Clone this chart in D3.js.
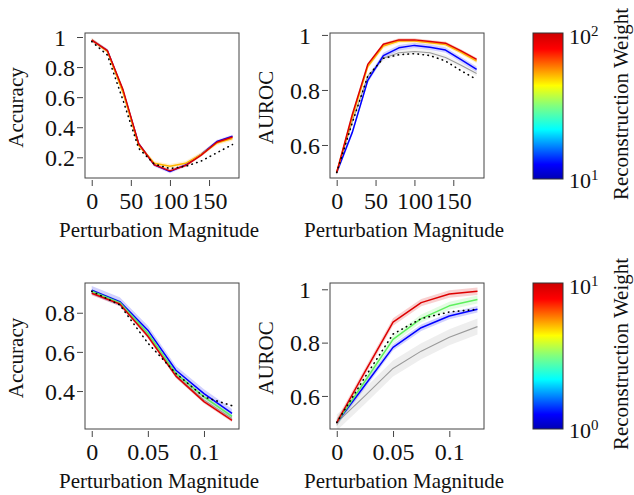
<!DOCTYPE html>
<html>
<head>
<meta charset="utf-8">
<script src="https://cdn.jsdelivr.net/npm/d3@7"></script>
<style>
  body { margin: 0; background: #fff; }
  svg text { font-family: "Liberation Serif", "Times New Roman", serif; fill: #111; }
</style>
</head>
<body>
<div id="chart"></div>
<script>
// ---- data ----
var magTop = [0, 20, 40, 60, 80, 100, 120, 140, 160, 180];
var magBot = [0, 0.025, 0.05, 0.075, 0.1, 0.125];

var xTicksTop = [0, 50, 100, 150];
var xTicksBot = [0, 0.05, 0.1];
var yTicksAccTop = [0.2, 0.4, 0.6, 0.8, 1];
var yTicksAurocTop = [0.6, 0.8, 1];
var yTicksAccBot = [0.4, 0.6, 0.8];
var yTicksAurocBot = [0.6, 0.8, 1];

// accuracy, top row (weights 10^1 .. 10^2)
var accTopBlue   = [0.98, 0.91, 0.64, 0.29, 0.15, 0.105, 0.15, 0.22, 0.305, 0.34];
var accTopOrange = [0.98, 0.905, 0.63, 0.28, 0.16, 0.14, 0.16, 0.22, 0.295, 0.325];
var accTopRed    = [0.98, 0.91, 0.65, 0.29, 0.15, 0.11, 0.145, 0.215, 0.30, 0.335];
var accTopDotted = [0.97, 0.88, 0.58, 0.26, 0.155, 0.125, 0.14, 0.175, 0.23, 0.285];

// AUROC, top row
var aurocTopGrey   = [0.5, 0.685, 0.85, 0.915, 0.935, 0.94, 0.935, 0.918, 0.89, 0.86];
var aurocTopBlue   = [0.5, 0.645, 0.835, 0.925, 0.953, 0.962, 0.955, 0.945, 0.91, 0.875];
var aurocTopOrange = [0.5, 0.70, 0.885, 0.96, 0.978, 0.978, 0.972, 0.965, 0.937, 0.905];
var aurocTopRed    = [0.5, 0.71, 0.893, 0.966, 0.982, 0.982, 0.976, 0.97, 0.942, 0.911];
var aurocTopDotted = [0.5, 0.68, 0.85, 0.915, 0.928, 0.932, 0.925, 0.905, 0.87, 0.838];

// accuracy, bottom row (weights 10^0 .. 10^1)
var accBotGrey   = [0.905, 0.848, 0.685, 0.48, 0.355, 0.26];
var accBotBlue   = [0.915, 0.857, 0.711, 0.506, 0.387, 0.286];
var accBotGreen  = [0.91, 0.852, 0.695, 0.49, 0.37, 0.27];
var accBotRed    = [0.90, 0.845, 0.68, 0.476, 0.346, 0.25];
var accBotDotted = [0.91, 0.84, 0.645, 0.49, 0.37, 0.325];

// AUROC, bottom row
var aurocBotGrey   = [0.5, 0.6, 0.703, 0.768, 0.82, 0.86];
var aurocBotBlue   = [0.5, 0.64, 0.782, 0.856, 0.9, 0.925];
var aurocBotGreen  = [0.5, 0.655, 0.812, 0.89, 0.938, 0.962];
var aurocBotRed    = [0.5, 0.69, 0.877, 0.95, 0.982, 0.993];
var aurocBotDotted = [0.5, 0.67, 0.832, 0.89, 0.915, 0.925];

var cbarTop = ["10", "2", "10", "1"];
var cbarBot = ["10", "1", "10", "0"];

// ---- colours ----
var cRed = "#dd0000", cBlue = "#0000ff", cGreen = "#5ef05e", cOrange = "#ffb400", cGrey = "#9a9a9a";
var serif = "'Liberation Serif', 'Times New Roman', serif";

var width = 634, height = 495;
var svg = d3.select("#chart").append("svg")
  .attr("width", width)
  .attr("height", height)
  .style("font-family", serif);

var defs = svg.append("defs");

function panel(opt) {
  var x = d3.scaleLinear().domain(opt.xDom).range([opt.left, opt.right]);
  var y = d3.scaleLinear().domain(opt.yDom).range([opt.bottom, opt.top]);

  var clipId = "clip_" + opt.id;
  defs.append("clipPath").attr("id", clipId)
    .append("rect")
    .attr("x", opt.left).attr("y", opt.top)
    .attr("width", opt.right - opt.left).attr("height", opt.bottom - opt.top);

  var g = svg.append("g");
  var plot = g.append("g").attr("clip-path", "url(#" + clipId + ")");

  // bands first
  opt.series.forEach(function (s) {
    if (!s.sd) return;
    var area = d3.area()
      .x(function (d, i) { return x(opt.xs[i]); })
      .y0(function (d) { return y(d - s.sd); })
      .y1(function (d) { return y(d + s.sd); });
    plot.append("path")
      .datum(s.values)
      .attr("d", area)
      .attr("fill", s.band || s.color)
      .attr("fill-opacity", s.bandOpacity || 0.18)
      .attr("stroke", "none");
  });

  var line = d3.line()
    .x(function (d, i) { return x(opt.xs[i]); })
    .y(function (d) { return y(d); });

  opt.series.forEach(function (s) {
    plot.append("path")
      .datum(s.values)
      .attr("d", line)
      .attr("fill", "none")
      .attr("stroke", s.color)
      .attr("stroke-width", s.width || 1.5)
      .attr("stroke-dasharray", s.dash || null)
      .attr("stroke-linecap", s.dash ? "round" : "butt")
      .attr("stroke-linejoin", "round");
  });

  // frame
  g.append("rect")
    .attr("x", opt.left).attr("y", opt.top)
    .attr("width", opt.right - opt.left).attr("height", opt.bottom - opt.top)
    .attr("fill", "none")
    .attr("stroke", "#444")
    .attr("stroke-width", 1);

  // x axis, offset a little below the frame
  var xa = g.append("g")
    .attr("transform", "translate(0," + (opt.bottom + 2) + ")")
    .call(d3.axisBottom(x).tickValues(opt.xTicks).tickSize(6).tickFormat(function (d) { return String(d); }));
  xa.select(".domain").remove();
  xa.selectAll("line").attr("stroke", "#444");
  xa.selectAll("text")
    .attr("dy", null)
    .attr("y", 29)
    .style("font-size", "24px")
    .style("font-family", serif)
    .attr("fill", "#111");

  var ya = g.append("g")
    .attr("transform", "translate(" + (opt.left - 2) + ",0)")
    .call(d3.axisLeft(y).tickValues(opt.yTicks).tickSize(6).tickFormat(function (d) { return String(d); }));
  ya.select(".domain").remove();
  ya.selectAll("line").attr("stroke", "#444");
  ya.selectAll("text")
    .attr("x", -23)
    .attr("text-anchor", "middle")
    .attr("dy", "0.34em")
    .style("font-size", "24px")
    .style("font-family", serif)
    .attr("fill", "#111");

  g.append("text")
    .attr("x", (opt.left + opt.right) / 2 - 3)
    .attr("y", opt.bottom + 59)
    .attr("text-anchor", "middle")
    .style("font-size", "21px")
    .text("Perturbation Magnitude");

  g.append("text")
    .attr("transform", "translate(" + opt.ylabX + "," + ((opt.top + opt.bottom) / 2 + 2) + ") rotate(-90)")
    .attr("text-anchor", "middle")
    .style("font-size", "21px")
    .text(opt.ylab);
}

function colorbar(id, top, bottom, labels) {
  var grad = defs.append("linearGradient").attr("id", id)
    .attr("x1", 0).attr("y1", 1).attr("x2", 0).attr("y2", 0);
  var stops = [[0, "#0000b4"], [0.1, "#0000ff"], [0.34, "#00ffff"], [0.5, "#80ff80"],
               [0.64, "#ffff00"], [0.89, "#ff0000"], [1, "#cc0000"]];
  stops.forEach(function (s) {
    grad.append("stop").attr("offset", s[0]).attr("stop-color", s[1]);
  });
  svg.append("rect")
    .attr("x", 533).attr("y", top)
    .attr("width", 30).attr("height", bottom - top)
    .attr("fill", "url(#" + id + ")")
    .attr("stroke", "#333")
    .attr("stroke-width", 1);

  var t1 = svg.append("text").attr("x", 569).attr("y", top + 11).style("font-size", "22px");
  t1.append("tspan").text(labels[0]);
  t1.append("tspan").attr("dy", -8).style("font-size", "15px").text(labels[1]);
  var t2 = svg.append("text").attr("x", 569).attr("y", bottom + 9).style("font-size", "22px");
  t2.append("tspan").text(labels[2]);
  t2.append("tspan").attr("dy", -8).style("font-size", "15px").text(labels[3]);

  svg.append("text")
    .attr("transform", "translate(628," + ((top + bottom) / 2 - 2) + ") rotate(-90)")
    .attr("text-anchor", "middle")
    .style("font-size", "21px")
    .text("Reconstruction Weight");
}

panel({
  id: "acc_top", left: 85, right: 239, top: 33, bottom: 178,
  xDom: [-8.6, 188.3], yDom: [0.0624, 1.0266], xs: magTop,
  xTicks: xTicksTop, yTicks: yTicksAccTop, ylab: "Accuracy", ylabX: 23,
  series: [
    { values: accTopBlue, color: cBlue, sd: 0.012, band: "#8a5cff" },
    { values: accTopOrange, color: cOrange, sd: 0.015 },
    { values: accTopRed, color: cRed, sd: 0.01 },
    { values: accTopDotted, color: "#000", dash: "0.5,4.5", width: 1.6 }
  ]
});

panel({
  id: "auroc_top", left: 330, right: 484, top: 33, bottom: 178,
  xDom: [-8.6, 189.5], yDom: [0.48, 1.007], xs: magTop,
  xTicks: xTicksTop, yTicks: yTicksAurocTop, ylab: "AUROC", ylabX: 273,
  series: [
    { values: aurocTopGrey, color: cGrey, sd: 0.01, band: "#bbbbbb", width: 1.1 },
    { values: aurocTopBlue, color: cBlue, sd: 0.01 },
    { values: aurocTopOrange, color: cOrange, sd: 0.008 },
    { values: aurocTopRed, color: cRed, sd: 0.006 },
    { values: aurocTopDotted, color: "#000", dash: "0.5,4.5", width: 1.6 }
  ]
});

panel({
  id: "acc_bot", left: 85, right: 239, top: 283, bottom: 429,
  xDom: [-0.006, 0.1312], yDom: [0.206, 0.952], xs: magBot,
  xTicks: xTicksBot, yTicks: yTicksAccBot, ylab: "Accuracy", ylabX: 23,
  series: [
    { values: accBotGrey, color: cGrey, sd: 0.015, band: "#aaaaaa", width: 1.1 },
    { values: accBotBlue, color: cBlue, sd: 0.022 },
    { values: accBotGreen, color: cGreen, sd: 0.01 },
    { values: accBotRed, color: cRed, sd: 0.01 },
    { values: accBotDotted, color: "#000", dash: "0.5,4.5", width: 1.6 }
  ]
});

panel({
  id: "auroc_bot", left: 330, right: 484, top: 283, bottom: 429,
  xDom: [-0.006, 0.1308], yDom: [0.476, 1.0236], xs: magBot,
  xTicks: xTicksBot, yTicks: yTicksAurocBot, ylab: "AUROC", ylabX: 273,
  series: [
    { values: aurocBotGrey, color: cGrey, sd: 0.03, band: "#aaaaaa", bandOpacity: 0.2, width: 1.1 },
    { values: aurocBotBlue, color: cBlue, sd: 0.012 },
    { values: aurocBotGreen, color: cGreen, sd: 0.015 },
    { values: aurocBotRed, color: cRed, sd: 0.014 },
    { values: aurocBotDotted, color: "#000", dash: "0.5,4.5", width: 1.6 }
  ]
});

colorbar("jet_top", 33, 179, cbarTop);
colorbar("jet_bot", 283, 429, cbarBot);
</script>
</body>
</html>
